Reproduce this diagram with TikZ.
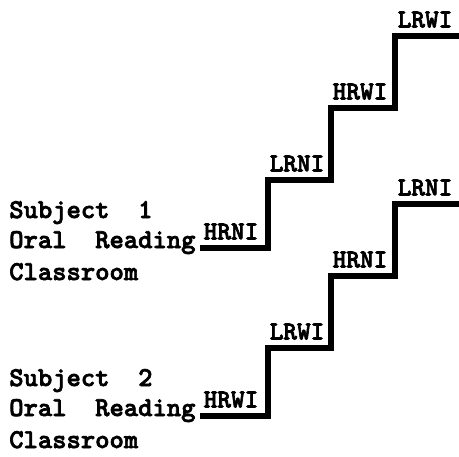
\documentclass[tikz,border=0pt]{standalone}
\usepackage{fontspec}
\usetikzlibrary{positioning}

\newfontfamily\printerface{lmmonolt10-bold.otf}[FakeBold=2.5]

\tikzset{
    stair/.style={line width=3.6pt, line cap=butt, line join=miter},
    steplabel/.style={font=\printerface\fontsize{18.5}{20}\selectfont,
                      inner sep=0pt, anchor=south},
    subjectline/.style={font=\printerface\fontsize{19.4}{22}\selectfont,
                        inner sep=0pt, anchor=base west}
}

\begin{document}
\begin{tikzpicture}[x=0.025cm, y=-0.025cm]

\useasboundingbox (0,0) rectangle (459,456);

% Subject 1
\node[subjectline] (oneName)  at (9,218) {Subject~~1};
\node[subjectline] (oneTask)  at (9,248) {Oral~~Reading};
\node[subjectline] (onePlace) at (9,280) {Classroom};

% Staircase of subject 1
\draw[stair] (200,248) -| (268,180) -| (331,108) -| (395,36) -- (459,36);
\foreach \x/\y/\lab in {231/248/HRNI,297/180/LRNI,360/108/HRWI,425/36/LRWI}{
    \node[steplabel] (one\lab) at (\x,\y-8) {\lab};
}

% Subject 2
\begin{scope}[shift={(0,168)}]

\node[subjectline] (twoName)  at (9,218) {Subject~~2};
\node[subjectline] (twoTask)  at (9,248) {Oral~~Reading};
\node[subjectline] (twoPlace) at (9,280) {Classroom};

% Staircase of subject 2
\draw[stair] (200,248) -| (268,180) -| (331,108) -| (395,36) -- (459,36);
\foreach \x/\y/\lab in {231/248/HRWI,297/180/LRWI,360/108/HRNI,425/36/LRNI}{
    \node[steplabel] (two\lab) at (\x,\y-8) {\lab};
}

\end{scope}

\end{tikzpicture}
\end{document}
